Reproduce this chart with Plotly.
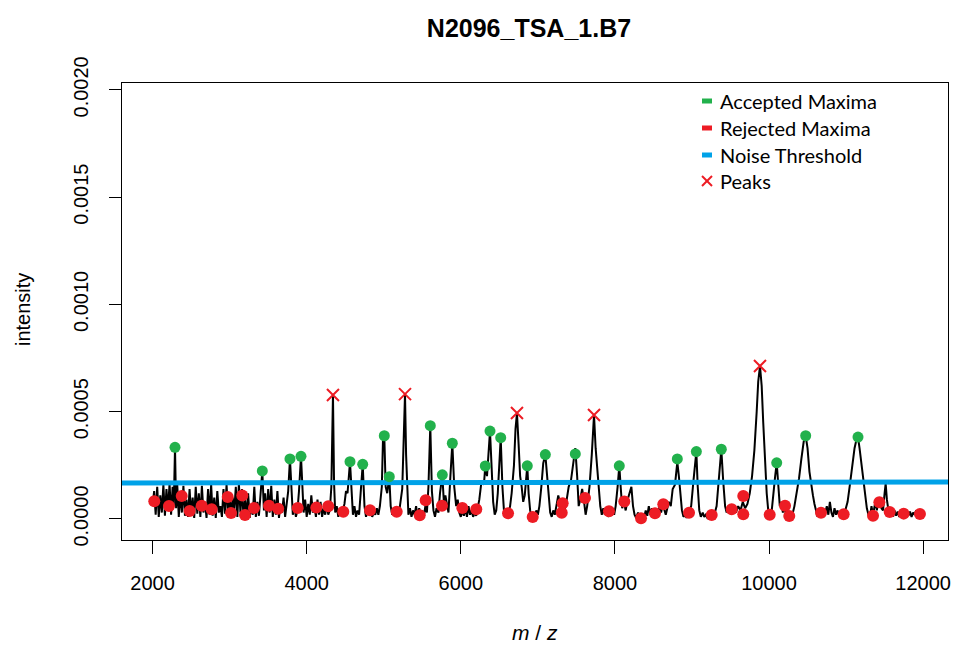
import plotly.graph_objects as go

# ---------------- data (intensity values in units of 1e-6) ----------------
spectrum = [
    (2000, 60), (2020, 130), (2040, 20), (2060, 150), (2080, 10), (2100, 110), (2120, 30), (2140, 160),
    (2160, 15), (2180, 140), (2200, 40), (2220, 165), (2240, 20), (2260, 150), (2275, 60), (2291, 334),
    (2305, 50), (2320, 160), (2340, 10), (2360, 120), (2380, 30), (2400, 155), (2420, 15), (2440, 90),
    (2460, 10), (2480, 140), (2500, 20), (2520, 100), (2540, 5), (2560, 150), (2580, 25), (2600, 120),
    (2620, 10), (2640, 155), (2660, 30), (2680, 80), (2700, 5), (2720, 140), (2740, 20), (2760, 160),
    (2780, 15), (2800, 100), (2820, 5), (2840, 130), (2860, 30), (2880, 60), (2900, 10), (2920, 140),
    (2940, 25), (2960, 160), (2980, 20), (3000, 120), (3020, 5), (3040, 100), (3060, 40), (3080, 150),
    (3100, 10), (3120, 165), (3140, 30), (3160, 140), (3180, 10), (3200, 90), (3220, 20), (3240, 120),
    (3260, 5), (3280, 60), (3300, 20), (3320, 150), (3340, 10), (3360, 80), (3380, 15), (3400, 110),
    (3424, 224), (3445, 40), (3460, 120), (3480, 10), (3500, 140), (3520, 30), (3540, 155), (3560, 10),
    (3580, 90), (3600, 20), (3620, 130), (3640, 5), (3660, 70), (3680, 30), (3700, 100), (3720, 10),
    (3740, 60), (3760, 130), (3783, 280), (3800, 150), (3820, 20), (3840, 60), (3860, 10), (3880, 40),
    (3900, 130), (3926, 292), (3945, 140), (3960, 30), (3980, 90), (4000, 10), (4020, 70), (4040, 20),
    (4060, 110), (4080, 30), (4100, 60), (4120, 10), (4140, 90), (4160, 20), (4180, 80), (4200, 10),
    (4220, 50), (4240, 20), (4260, 70), (4280, 20), (4300, 40), (4320, 150), (4341, 578), (4355, 170),
    (4370, 30), (4390, 60), (4410, 10), (4430, 50), (4450, 20), (4470, 40), (4490, 70), (4510, 130),
    (4530, 120), (4562, 267), (4585, 90), (4600, 20), (4620, 60), (4640, 10), (4660, 40), (4680, 20),
    (4700, 120), (4727, 255), (4750, 60), (4770, 10), (4790, 40), (4810, 20), (4830, 60), (4850, 10),
    (4870, 30), (4890, 20), (4910, 50), (4930, 20), (4950, 60), (4975, 150), (4990, 370), (5007, 388),
    (5025, 150), (5045, 120), (5072, 197), (5090, 60), (5110, 20), (5130, 50), (5150, 10), (5170, 40),
    (5190, 20), (5210, 60), (5240, 140), (5262, 400), (5276, 582), (5290, 300), (5305, 100), (5320, 20),
    (5340, 50), (5360, 10), (5380, 40), (5400, 20), (5420, 60), (5440, 10), (5460, 50), (5480, 20),
    (5500, 40), (5520, 10), (5540, 60), (5560, 30), (5580, 150), (5604, 435), (5625, 130), (5645, 40),
    (5665, 10), (5685, 50), (5710, 30), (5730, 120), (5760, 206), (5780, 80), (5800, 110), (5820, 60),
    (5840, 30), (5865, 200), (5890, 353), (5915, 150), (5940, 60), (5960, 90), (5980, 30), (6000, 10),
    (6020, 40), (6040, 15), (6060, 50), (6080, 10), (6100, 60), (6120, 20), (6140, 40), (6160, 10),
    (6180, 30), (6200, 15), (6220, 50), (6240, 90), (6270, 180), (6300, 160), (6318, 247), (6340, 200),
    (6379, 410), (6400, 200), (6420, 80), (6440, 20), (6460, 40), (6480, 120), (6518, 379), (6540, 150),
    (6560, 40), (6580, 20), (6600, 10), (6620, 30), (6640, 60), (6660, 120), (6690, 250), (6710, 420),
    (6729, 494), (6750, 350), (6770, 200), (6790, 150), (6810, 80), (6830, 110), (6863, 248), (6880, 120),
    (6900, 40), (6920, 10), (6940, 30), (6960, 10), (6980, 40), (7000, 20), (7020, 60), (7045, 150),
    (7070, 260), (7097, 300), (7120, 200), (7140, 80), (7160, 30), (7180, 10), (7200, 40), (7220, 20),
    (7240, 60), (7265, 110), (7290, 70), (7310, 30), (7330, 10), (7350, 40), (7370, 80), (7400, 150),
    (7430, 180), (7460, 260), (7486, 330), (7510, 200), (7530, 60), (7550, 90), (7575, 140), (7600, 80),
    (7620, 20), (7640, 60), (7670, 150), (7700, 300), (7729, 485), (7750, 330), (7770, 250), (7790, 160),
    (7810, 60), (7830, 20), (7850, 50), (7870, 20), (7890, 40), (7910, 10), (7930, 30), (7950, 15),
    (7970, 50), (7990, 20), (8010, 60), (8035, 150), (8057, 248), (8075, 150), (8095, 50), (8115, 80),
    (8140, 40), (8165, 90), (8190, 120), (8214, 150), (8235, 60), (8255, 20), (8275, 5), (8300, 30),
    (8320, 10), (8340, 0), (8360, 20), (8380, 10), (8400, 40), (8420, 15), (8440, 60), (8460, 20),
    (8480, 50), (8500, 30), (8520, 10), (8540, 40), (8560, 20), (8580, 60), (8600, 30), (8620, 70),
    (8640, 40), (8660, 20), (8680, 50), (8700, 80), (8725, 60), (8750, 140), (8780, 160), (8810, 265),
    (8830, 200), (8850, 120), (8870, 40), (8890, 10), (8910, 20), (8930, 5), (8960, 30), (8990, 60),
    (9020, 180), (9057, 314), (9075, 150), (9095, 40), (9115, 10), (9140, 30), (9160, 10), (9180, 20),
    (9200, 5), (9230, 15), (9260, 5), (9290, 20), (9320, 60), (9350, 200), (9381, 325), (9405, 180),
    (9430, 60), (9450, 30), (9470, 60), (9490, 40), (9510, 20), (9540, 50), (9570, 30), (9600, 60),
    (9630, 40), (9660, 80), (9690, 50), (9720, 70), (9750, 120), (9780, 200), (9810, 320), (9840, 500),
    (9860, 640), (9883, 713), (9905, 620), (9925, 450), (9950, 250), (9970, 120), (9990, 40), (10010, 10),
    (10030, 20), (10060, 150), (10080, 200), (10100, 262), (10120, 150), (10140, 60), (10160, 80), (10180, 30),
    (10200, 60), (10220, 20), (10240, 40), (10260, 10), (10280, 30), (10300, 15), (10330, 60), (10360, 120),
    (10390, 190), (10420, 280), (10450, 360), (10476, 388), (10500, 330), (10525, 220), (10550, 150), (10570, 110),
    (10590, 70), (10610, 40), (10630, 10), (10650, 50), (10670, 20), (10690, 40), (10710, 10), (10730, 30),
    (10750, 60), (10770, 20), (10790, 80), (10810, 30), (10830, 10), (10850, 50), (10870, 20), (10890, 40),
    (10910, 15), (10930, 30), (10960, 10), (10990, 40), (11020, 80), (11050, 160), (11080, 250), (11110, 330),
    (11135, 370), (11155, 382), (11175, 330), (11200, 250), (11225, 170), (11250, 100), (11270, 50), (11290, 20),
    (11310, 10), (11330, 60), (11350, 20), (11380, 80), (11400, 40), (11420, 90), (11440, 100), (11460, 50),
    (11480, 40), (11500, 120), (11514, 165), (11530, 90), (11550, 40), (11570, 20), (11590, 50), (11610, 10),
    (11630, 40), (11650, 15), (11670, 35), (11690, 10), (11710, 40), (11730, 20), (11750, 30), (11770, 10),
    (11790, 40), (11810, 15), (11830, 35), (11850, 10), (11870, 30), (11890, 20), (11910, 40), (11930, 15),
    (11950, 30), (11970, 10), (11990, 25), (12000, 20),
]

accepted_mz = [2291, 3424, 3783, 3926, 4562, 4727, 5007, 5072, 5604, 5760, 5890, 6318,
               6379, 6518, 6863, 7097, 7486, 8057, 8810, 9057, 9381, 10100, 10476, 11155]
accepted_int = [334, 224, 280, 292, 267, 255, 388, 197, 435, 206, 353, 247,
                410, 379, 248, 300, 303, 248, 280, 314, 325, 262, 388, 382]

rejected_mz = [2022, 2213, 2378, 2481, 2637, 2767, 2975, 3018, 3164, 3199, 3316, 3511,
               3630, 3883, 4125, 4280, 4475, 4822, 5168, 5467, 5544, 5756, 6020, 6201,
               6613, 6933, 7322, 7310, 7612, 7923, 8122, 8339, 8520, 8628, 8962, 9256,
               9516, 9666, 9666, 10009, 10208, 10263, 10675, 10969, 11350, 11432, 11566,
               11748, 11959]
rejected_int = [83, 61, 107, 37, 62, 45, 103, 28, 110, 19, 51, 62,
                48, 51, 53, 59, 34, 41, 34, 17, 87, 62, 51, 45,
                27, 9, 73, 29, 98, 36, 81, 3, 27, 69, 29, 19,
                45, 107, 22, 20, 62, 14, 29, 22, 15, 78, 33,
                25, 23]

peaks_mz = [4341, 5276, 6729, 7729, 9883]
peaks_int = [578, 582, 494, 485, 713]

noise_mz = [1600, 6990, 6990, 12400]
noise_int = [168, 168, 172, 172]

x_ticks = [2000, 4000, 6000, 8000, 10000, 12000]
y_ticks = [0.0, 0.0005, 0.0010, 0.0015, 0.0020]
y_tick_labels = ["0.0000", "0.0005", "0.0010", "0.0015", "0.0020"]

legend_labels = ["Accepted Maxima", "Rejected Maxima", "Noise Threshold", "Peaks"]

UNIT = 1e-6
spec_mz = [p[0] for p in spectrum]
spec_int = [p[1] * UNIT for p in spectrum]

GREEN = "#22B14C"
RED = "#ED1C24"
BLUE = "#00A2E8"

fig = go.Figure()
fig.add_trace(go.Scatter(x=spec_mz, y=spec_int, mode="lines",
                         line=dict(color="black", width=2), showlegend=False, hoverinfo="skip"))
fig.add_trace(go.Scatter(x=noise_mz, y=[v * UNIT for v in noise_int], mode="lines",
                         line=dict(color=BLUE, width=5), showlegend=False))
fig.add_trace(go.Scatter(x=rejected_mz, y=[v * UNIT for v in rejected_int], mode="markers",
                         marker=dict(color=RED, size=12, line=dict(width=0)), showlegend=False))
fig.add_trace(go.Scatter(x=accepted_mz, y=[v * UNIT for v in accepted_int], mode="markers",
                         marker=dict(color=GREEN, size=11, line=dict(width=0)), showlegend=False))
fig.add_trace(go.Scatter(x=peaks_mz, y=[v * UNIT for v in peaks_int], mode="markers",
                         marker=dict(symbol="x-thin", size=12, line=dict(color=RED, width=2)),
                         showlegend=False))

# plot area geometry (pixels)
L, R, T, B = 122, 948, 83, 540
W, H = R - L, B - T

def px(xp):
    return (xp - L) / W

def py(yp):
    return (B - yp) / H

shapes = []
annotations = []
leg_rows = [101, 128, 155, 181]
leg_colors = [GREEN, RED, BLUE]
for row, col in zip(leg_rows[:3], leg_colors):
    shapes.append(dict(type="line", xref="paper", yref="paper", x0=px(702), x1=px(712),
                       y0=py(row), y1=py(row), line=dict(color=col, width=5)))
shapes.append(dict(type="line", xref="paper", yref="paper", x0=px(702), x1=px(712),
                   y0=py(176), y1=py(186), line=dict(color=RED, width=2)))
shapes.append(dict(type="line", xref="paper", yref="paper", x0=px(702), x1=px(712),
                   y0=py(186), y1=py(176), line=dict(color=RED, width=2)))
for row, lab in zip(leg_rows, legend_labels):
    annotations.append(dict(xref="paper", yref="paper", x=px(718), y=py(row), text=lab,
                            showarrow=False, xanchor="left", yanchor="middle",
                            font=dict(family="Lato", size=20, color="black")))

annotations.append(dict(xref="paper", yref="paper", x=px(23), y=py(310), text="intensity",
                        textangle=-90, showarrow=False, xanchor="center", yanchor="middle",
                        font=dict(family="Liberation Sans, Arial", size=20, color="black")))
annotations.append(dict(xref="paper", yref="paper", x=px(535), y=py(632), text="<i>m</i> / <i>z</i>",
                        showarrow=False, xanchor="center", yanchor="middle",
                        font=dict(family="Liberation Sans, Arial", size=21, color="black")))

fig.update_layout(
    width=956, height=649,
    margin=dict(l=L, r=956 - R, t=T, b=649 - B, autoexpand=False),
    paper_bgcolor="white", plot_bgcolor="white",
    title=dict(text="<b>N2096_TSA_1.B7</b>", x=529 / 956, xanchor="center", xref="container",
               y=1 - 28 / 649, yanchor="middle", yref="container",
               font=dict(family="Liberation Sans, Arial", size=25, color="black")),
    xaxis=dict(range=[1603, 12323], tickvals=x_ticks, ticktext=[str(v) for v in x_ticks],
               automargin=False,
               showgrid=False, zeroline=False, showline=True, mirror=True, linecolor="black",
               linewidth=1, ticks="outside", ticklen=13, tickcolor="black", tickwidth=1,
               ticklabelstandoff=12,
               tickfont=dict(family="Liberation Sans, Arial", size=20, color="black")),
    yaxis=dict(range=[-0.0000979, 0.002032], tickvals=y_ticks, ticktext=y_tick_labels,
               automargin=False,
               showgrid=False, zeroline=False, showline=True, mirror=True, linecolor="black",
               linewidth=1, ticks="outside", ticklen=12, tickcolor="black", tickwidth=1,
               tickangle=-90, ticklabelstandoff=13,
               tickfont=dict(family="Liberation Sans, Arial", size=20, color="black")),
    shapes=shapes, annotations=annotations,
    showlegend=False,
)

fig.write_html("out.html", config={"displayModeBar": False},
               post_script="document.body.style.margin='0';document.body.style.overflow='hidden';")
